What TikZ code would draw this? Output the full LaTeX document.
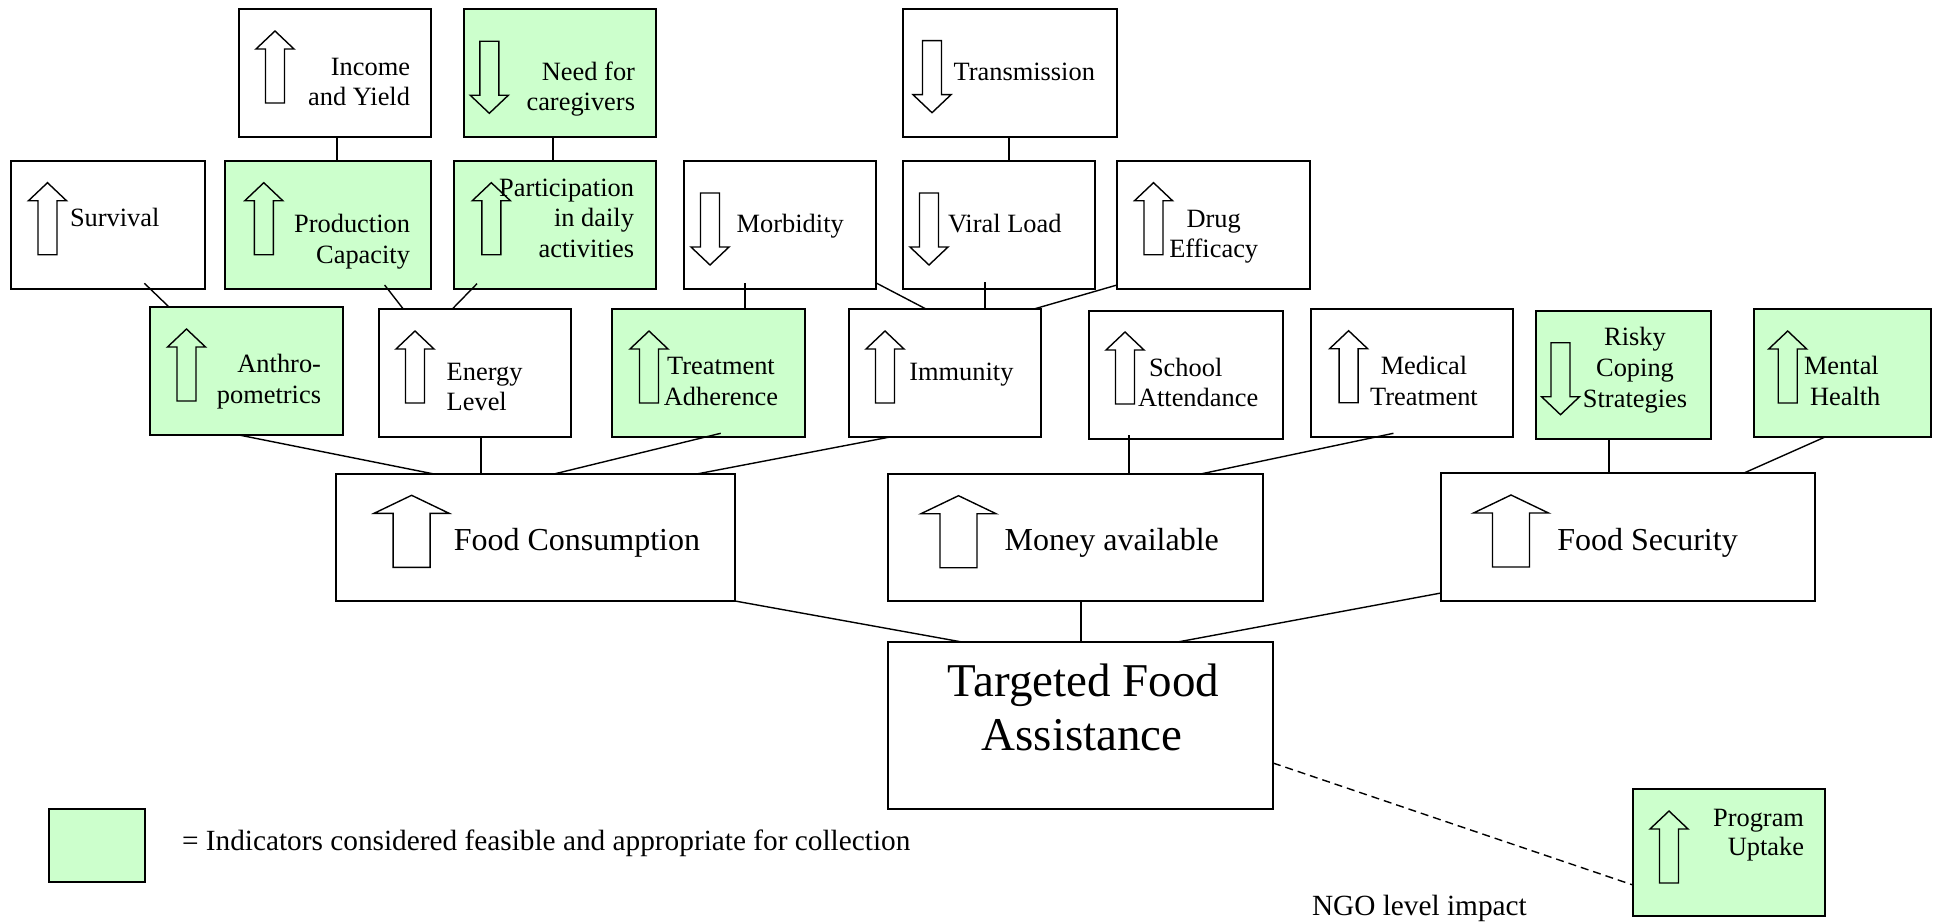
\documentclass[tikz,border=0pt]{standalone}
\usepackage{fontspec}
\setmainfont{Liberation Serif}
\usetikzlibrary{calc}
\definecolor{feas}{HTML}{CCFFCC}
\tikzset{
 box/.style={draw, line width=1.6pt, inner sep=0pt, outer sep=0pt, fill=white},
 gbox/.style={box, fill=feas},
 conn/.style={line width=1.4pt},
 arw/.style={draw, line width=1.4pt, line join=miter},
 sm/.style={font=\fontsize{26.4}{30.5}\selectfont, inner sep=0pt, outer sep=0pt},
 md/.style={font=\fontsize{32}{36}\selectfont, inner sep=0pt, outer sep=0pt},
 lg/.style={font=\fontsize{47}{53}\selectfont, inner sep=0pt, outer sep=0pt},
 nt/.style={font=\fontsize{29.3}{33}\selectfont, inner sep=0pt, outer sep=0pt},
}
\newcommand\UpArw[2]{\draw[arw] (#1,#2) -- ++(19,18) -- ++(-9.5,0) -- ++(0,54) -- ++(-19,0) -- ++(0,-54) -- ++(-9.5,0) -- cycle;}
\newcommand\DnArw[2]{\draw[arw] (#1,#2) -- ++(19,-18) -- ++(-9.5,0) -- ++(0,-54) -- ++(-19,0) -- ++(0,54) -- ++(-9.5,0) -- cycle;}
\newcommand\BigArw[2]{\draw[arw] (#1,#2) -- ++(37.5,18) -- ++(-19,0) -- ++(0,54) -- ++(-37,0) -- ++(0,-54) -- ++(-19,0) -- cycle;}
\begin{document}
\begin{tikzpicture}[x=1pt,y=-1pt]
\useasboundingbox (0,0) rectangle (1934,923);
% boxes
\node[box,  minimum width=192pt, minimum height=128pt] (inc)    at (335,73) {};
\node[gbox, minimum width=192pt, minimum height=128pt] (need)   at (560,73) {};
\node[box,  minimum width=214pt, minimum height=128pt] (trans)  at (1010,73) {};
\node[box,  minimum width=194pt, minimum height=128pt] (surv)   at (108,225) {};
\node[gbox, minimum width=206pt, minimum height=128pt] (prod)   at (328,225) {};
\node[gbox, minimum width=202pt, minimum height=128pt] (part)   at (555,225) {};
\node[box,  minimum width=192pt, minimum height=128pt] (morb)   at (780,225) {};
\node[box,  minimum width=192pt, minimum height=128pt] (viral)  at (999,225) {};
\node[box,  minimum width=193pt, minimum height=128pt] (drug)   at (1213.5,225) {};
\node[gbox, minimum width=193pt, minimum height=128pt] (anth)   at (246.5,371) {};
\node[box,  minimum width=192pt, minimum height=128pt] (energy) at (475,373) {};
\node[gbox, minimum width=193pt, minimum height=128pt] (treat)  at (708.5,373) {};
\node[box,  minimum width=192pt, minimum height=128pt] (immun)  at (945,373) {};
\node[box,  minimum width=194pt, minimum height=128pt] (school) at (1186,375) {};
\node[box,  minimum width=202pt, minimum height=128pt] (medical) at (1412,373) {};
\node[gbox, minimum width=175pt, minimum height=128pt] (risky)  at (1623.5,375) {};
\node[gbox, minimum width=177pt, minimum height=128pt] (mental) at (1842.5,373) {};
\node[box,  minimum width=399pt, minimum height=127pt] (fc)     at (535.5,537.5) {};
\node[box,  minimum width=375pt, minimum height=127pt] (money)  at (1075.5,537.5) {};
\node[box,  minimum width=374pt, minimum height=128pt] (fs)     at (1628,537) {};
\node[box,  minimum width=385pt, minimum height=167pt] (tfa)    at (1080.5,725.5) {};
\node[gbox, minimum width=192pt, minimum height=127pt] (prog)   at (1729,852.5) {};
\node[gbox, minimum width=96pt,  minimum height=73pt]  (legend) at (97,845.5) {};
% block arrows
\UpArw{275}{31}
\DnArw{489.3}{113.3}
\DnArw{932}{112.7}
\UpArw{47.5}{182.7}
\UpArw{263.8}{182.7}
\UpArw{491.3}{182.7}
\DnArw{710}{265}
\DnArw{929}{265}
\UpArw{1153.5}{182.7}
\UpArw{186.5}{329}
\UpArw{415}{331}
\UpArw{649}{331}
\UpArw{885}{331}
\UpArw{1125}{332}
\UpArw{1348.6}{330.7}
\DnArw{1560.5}{414.7}
\UpArw{1787.7}{331}
\UpArw{1669}{811}
\BigArw{411.6}{495.3}
\BigArw{958.5}{495.7}
\BigArw{1511}{495}
% texts
\node[sm, anchor=base east] (incA) at (410,76) {Income};
\node[sm, anchor=base east] (incB) at (410,106) {and Yield};
\node[sm, anchor=base east] (needA) at (635,81) {Need for};
\node[sm, anchor=base east] (needB) at (635,111) {caregivers};
\node[sm, anchor=base west] (transA) at (953.6,81) {Transmission};
\node[sm, anchor=base west] (survA) at (70,226.7) {Survival};
\node[sm, anchor=base east] (prodA) at (410,232.7) {Production};
\node[sm, anchor=base east] (prodB) at (410,263.3) {Capacity};
\node[sm, anchor=base east] (partA) at (634,196) {Participation};
\node[sm, anchor=base east] (partB) at (634,226.7) {in daily};
\node[sm, anchor=base east] (partC) at (634,257.3) {activities};
\node[sm, anchor=base west] (morbA) at (736.7,232.3) {Morbidity};
\node[sm, anchor=base west] (viralA) at (948,232.3) {Viral Load};
\node[sm, anchor=base] (drugA) at (1213.7,227.7) {Drug};
\node[sm, anchor=base] (drugB) at (1213.7,257.7) {Efficacy};
\node[sm, anchor=base east] (anthA) at (321,372.7) {Anthro-};
\node[sm, anchor=base east] (anthB) at (321,403.3) {pometrics};
\node[sm, anchor=base west] (energyA) at (446.7,380) {Energy};
\node[sm, anchor=base west] (energyB) at (446.7,410.7) {Level};
\node[sm, anchor=base] (treatA) at (721,374.3) {Treatment};
\node[sm, anchor=base] (treatB) at (721,405) {Adherence};
\node[sm, anchor=base west] (immunA) at (909.3,380.7) {Immunity};
\node[sm, anchor=base west] (schoolA) at (1149,376) {School};
\node[sm, anchor=base west] (schoolB) at (1138,406.7) {Attendance};
\node[sm, anchor=base] (medicalA) at (1424,374.3) {Medical};
\node[sm, anchor=base] (medicalB) at (1424,405) {Treatment};
\node[sm, anchor=base] (riskyA) at (1635,345) {Risky};
\node[sm, anchor=base] (riskyB) at (1635,376.7) {Coping};
\node[sm, anchor=base] (riskyC) at (1635,407.3) {Strategies};
\node[sm, anchor=base west] (mentalA) at (1804,374.3) {Mental};
\node[sm, anchor=base west] (mentalB) at (1810,405) {Health};
\node[md, anchor=base west] (fcA) at (453.8,550) {Food Consumption};
\node[md, anchor=base west] (moneyA) at (1004.7,550) {Money available};
\node[md, anchor=base west] (fsA) at (1557.3,550) {Food Security};
\node[lg, anchor=base] (tfaA) at (1083.5,696.7) {Targeted Food};
\node[lg, anchor=base] (tfaB) at (1082,750) {Assistance};
\node[sm, anchor=base east] (progA) at (1804,826) {Program};
\node[sm, anchor=base east] (progB) at (1804,855) {Uptake};
\node[nt, anchor=base west] (legendT) at (182,850) {= Indicators considered feasible and appropriate for collection};
\node[nt, anchor=base west] (ngo) at (1312,915) {NGO level impact};
% connectors
\draw[conn] ($(inc.south west)+(98,0)$) -- ($(prod.north west)+(112,0)$);
\draw[conn] ($(need.south west)+(89,0)$) -- ($(part.north west)+(99,0)$);
\draw[conn] ($(surv.south west)+(133.4,-5.7)$) -- ($(anth.north west)+(19,0)$);
\draw[conn] ($(prod.south west)+(159.6,-4)$) -- ($(energy.north west)+(24.3,0)$);
\draw[conn] ($(part.south west)+(23,-5.3)$) -- ($(energy.north west)+(73.3,0)$);
\draw[conn] ($(anth.south west)+(89,0)$) -- ($(fc.north west)+(98,0)$);
\draw[conn] ($(energy.south west)+(102,0)$) -- ($(fc.north west)+(145,0)$);
\draw[conn] ($(trans.south west)+(106,0)$) -- ($(viral.north west)+(106,0)$);
\draw[conn] ($(morb.south west)+(61,-6)$) -- ($(treat.north west)+(133,0)$);
\draw[conn] ($(morb.south east)+(0.8,-5.7)$) -- ($(immun.north west)+(77,0)$);
\draw[conn] ($(viral.south west)+(82,-7)$) -- ($(immun.north west)+(136,0)$);
\draw[conn] ($(drug.south west)+(0,-4)$) -- ($(immun.north east)+(-7,0)$);
\draw[conn] ($(treat.south west)+(108.7,-3.7)$) -- ($(fc.north west)+(218,0)$);
\draw[conn] ($(immun.south west)+(41,0)$) -- ($(fc.north west)+(360.7,0)$);
\draw[conn] ($(school.south west)+(40,-4)$) -- ($(money.north west)+(241,0)$);
\draw[conn] ($(medical.south west)+(82.4,-3.7)$) -- ($(money.north west)+(312.5,0)$);
\draw[conn] ($(risky.south west)+(73,0)$) -- ($(fs.north west)+(168,0)$);
\draw[conn] ($(mental.south west)+(71,0)$) -- ($(fs.north west)+(303,0)$);
\draw[conn] (fc.south east) -- ($(tfa.north west)+(74,0)$);
\draw[conn] ($(money.south west)+(193,0)$) -- ($(tfa.north west)+(193,0)$);
\draw[conn] ($(fs.south west)+(0,-8)$) -- ($(tfa.north west)+(289.6,0)$);
\draw[conn, dash pattern=on 8pt off 5pt] ($(tfa.south east)+(0,-46)$) -- ($(prog.south west)+(0,-31)$);
\end{tikzpicture}
\end{document}
